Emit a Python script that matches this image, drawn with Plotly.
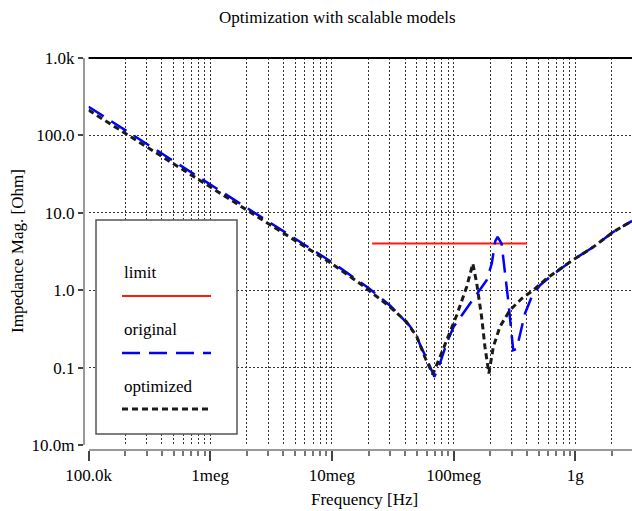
import numpy as np
import plotly.graph_objects as go

# ---- data ----
freq_orig = [1e5, 3e5, 1e6, 3e6, 1e7, 2e7, 3e7, 4.4e7, 5.1e7, 6.0e7, 6.95e7, 7.75e7, 8.8e7,
             1.0e8, 1.36e8, 1.65e8, 1.87e8, 2.06e8, 2.2e8, 2.3e8, 2.48e8, 2.81e8, 3.09e8,
             3.3e8, 3.86e8, 4.38e8, 5.13e8, 6.2e8, 9.05e8, 1.41e9, 2.05e9, 2.93e9]
z_orig = [235, 78, 23.5, 7.8, 2.3, 1.07, 0.636, 0.34, 0.227, 0.13, 0.076, 0.115, 0.21,
          0.336, 0.67, 1.0, 1.35, 2.21, 4.3, 4.88, 4.0, 0.74, 0.168,
          0.175, 0.5, 0.82, 1.16, 1.49, 2.32, 3.63, 5.65, 7.86]

freq_opt = [1e5, 3e5, 1e6, 3e6, 1e7, 1.7e7, 2.19e7, 3e7, 4.1e7, 4.98e7, 5.8e7, 6.75e7, 7.73e7,
            9.3e7, 1.06e8, 1.28e8, 1.44e8, 1.55e8, 1.7e8, 1.81e8, 1.95e8, 2.12e8, 2.4e8,
            2.9e8, 3.63e8, 4.52e8, 5.82e8, 9.05e8, 1.41e9, 2.05e9, 2.93e9]
z_opt = [212, 71, 21.5, 7.2, 2.2, 1.22, 0.906, 0.61, 0.39, 0.253, 0.137, 0.082, 0.137,
         0.276, 0.475, 1.1, 2.21, 1.22, 0.45, 0.185, 0.084, 0.185, 0.336,
         0.55, 0.78, 1.0, 1.42, 2.32, 3.63, 5.65, 7.86]

freq_limit = [2.14e7, 4.01e8]
z_limit = [4.0, 4.0]

x_tickvals = [1e5, 1e6, 1e7, 1e8, 1e9]
x_ticktext = ["100.0k", "1meg", "10meg", "100meg", "1g"]
y_tickvals = [1e3, 1e2, 1e1, 1e0, 1e-1, 1e-2]
y_ticktext = ["1.0k", "100.0", "10.0", "1.0", "0.1", "10.0m"]

series_names = ["limit", "original", "optimized"]

# ---- layout geometry ----
W, H = 632, 511
ML, MR, MT, MB = 84, 0, 58, 61
PW, PH = W - ML - MR, H - MT - MB


def px(x):
    return (x - ML) / PW


def py(y):
    return (H - MB - y) / PH


FONT = "Liberation Serif, Times New Roman, serif"
GRID = "#333333"
GRIDDASH = "2px,2px"

fig = go.Figure()
fig.add_trace(go.Scatter(x=freq_limit, y=z_limit, mode="lines", name=series_names[0],
                         line=dict(color="#ff1a0a", width=2)))
fig.add_trace(go.Scatter(x=freq_orig, y=z_orig, mode="lines", name=series_names[1],
                         line=dict(color="#0000ff", width=2.5, dash="18px,9px")))
fig.add_trace(go.Scatter(x=freq_opt, y=z_opt, mode="lines", name=series_names[2],
                         line=dict(color="#1a1a1a", width=3, dash="6px,4px")))

minor_x = [m * 10 ** d for d in range(5, 10) for m in range(2, 10) if m * 10 ** d < 3e9]

fig.update_layout(
    width=W, height=H, showlegend=False,
    margin=dict(l=ML, r=MR, t=MT, b=MB, pad=0),
    paper_bgcolor="white", plot_bgcolor="white",
    font=dict(family=FONT, size=17, color="black"),
    xaxis=dict(type="log", range=[5, 9.466], domain=[4.5 / PW, 1],
               anchor="free", position=0,
               tickmode="array", tickvals=x_tickvals, ticktext=x_ticktext,
               ticks="outside", ticklen=10, tickwidth=1.5, tickcolor="#444",
               showline=True, linecolor="#999", linewidth=2,
               showgrid=True, gridcolor=GRID, griddash=GRIDDASH, gridwidth=1,
               zeroline=False,
               tickfont=dict(family=FONT, size=17, color="black"),
               minor=dict(tickmode="array", tickvals=minor_x, ticks="outside",
                          ticklen=5, tickwidth=1.5, tickcolor="#777",
                          showgrid=True, gridcolor=GRID, griddash=GRIDDASH, gridwidth=1)),
    yaxis=dict(type="log", range=[-2, 3], domain=[5 / PH, 1],
               anchor="free", position=0,
               tickmode="array", tickvals=y_tickvals, ticktext=y_ticktext,
               ticks="outside", ticklen=5, tickwidth=1.5, tickcolor="#444",
               showline=True, linecolor="#999", linewidth=2,
               showgrid=True, gridcolor=GRID, griddash=GRIDDASH, gridwidth=1,
               zeroline=False,
               tickfont=dict(family=FONT, size=17, color="black")),
)

shapes = [
    # top frame line
    dict(type="line", xref="paper", yref="paper", x0=4.5 / PW, x1=1, y0=1, y1=1,
         line=dict(color="black", width=2), layer="above"),
    # legend box
    dict(type="rect", xref="paper", yref="paper", x0=px(96), x1=px(237), y0=py(434), y1=py(220),
         line=dict(color="#555", width=1.5), fillcolor="white", layer="above"),
    dict(type="line", xref="paper", yref="paper", x0=px(122), x1=px(211), y0=py(296), y1=py(296),
         line=dict(color="#ff1a0a", width=2), layer="above"),
    dict(type="line", xref="paper", yref="paper", x0=px(122), x1=px(211), y0=py(353), y1=py(353),
         line=dict(color="#0000ff", width=2.5, dash="18px,9px"), layer="above"),
    dict(type="line", xref="paper", yref="paper", x0=px(122), x1=px(211), y0=py(409), y1=py(409),
         line=dict(color="#1a1a1a", width=3, dash="6px,4px"), layer="above"),
]
fig.update_layout(shapes=shapes)

ann = [
    dict(text="Optimization with scalable models", x=px(337), y=py(17), xref="paper", yref="paper",
         showarrow=False, xanchor="center", yanchor="middle", font=dict(family=FONT, size=17)),
    dict(text="Frequency [Hz]", x=px(364), y=py(499), xref="paper", yref="paper",
         showarrow=False, xanchor="center", yanchor="middle", font=dict(family=FONT, size=17)),
    dict(text="Impedance Mag. [Ohm]", x=px(17), y=py(251), xref="paper", yref="paper",
         showarrow=False, xanchor="center", yanchor="middle", textangle=-90,
         font=dict(family=FONT, size=17)),
]
for name, yc in zip(series_names, [272, 329, 386]):
    ann.append(dict(text=name, x=px(122), y=py(yc), xref="paper", yref="paper",
                    showarrow=False, xanchor="left", yanchor="middle",
                    font=dict(family=FONT, size=17)))
fig.update_layout(annotations=ann)

fig.write_html("out.html")
